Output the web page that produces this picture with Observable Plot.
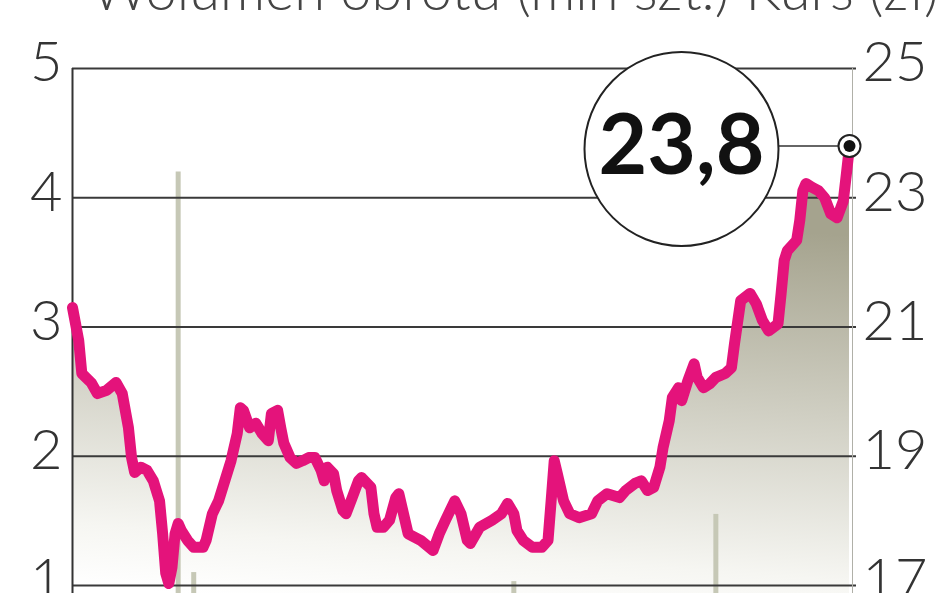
<!DOCTYPE html>
<html><head><meta charset="utf-8">
<script src="https://cdn.jsdelivr.net/npm/d3@7"></script>
<script src="https://cdn.jsdelivr.net/npm/@observablehq/plot@0.6"></script>
<style>
html,body{margin:0;padding:0;background:#fff;overflow:hidden;}
#chart svg{display:block;}
</style></head>
<body><div id="chart"></div>
<script>
// Kurs (zł) – sesje
const day = [0,2,3,6,8,11,14,16,18,19,20,22,24,26,28,29,30,31,32,33,34,35,37,39,42,43,45,47,49,51,53,54,55,57,59,61,63,64,66,67,68,70,72,74,76,78,80,81,82,84,85,87,88,90,92,93,96,97,98,100,102,104,105,108,112,116,118,120,123,125,127,128,131,135,138,140,142,143,145,148,151,153,154,155,156,158,160,163,167,169,172,176,178,181,183,185,187,189,190,192,193,195,196,198,200,201,203,205,207,210,212,213,215,218,220,222,224,227,228,229,230,233,234,235,236,238,240,242,244,246,248,249,250];
const price = [21.30,20.79,20.28,20.14,19.97,20.02,20.14,19.97,19.44,18.98,18.75,18.83,18.78,18.62,18.31,17.80,17.19,17.03,17.28,17.80,17.96,17.85,17.70,17.59,17.59,17.70,18.11,18.31,18.62,18.93,19.35,19.75,19.71,19.44,19.51,19.35,19.24,19.66,19.71,19.44,19.20,18.98,18.89,18.93,18.98,18.98,18.78,18.62,18.83,18.73,18.47,18.16,18.11,18.36,18.62,18.67,18.52,18.11,17.90,17.90,18.01,18.36,18.42,17.80,17.70,17.54,17.80,18.01,18.31,18.11,17.70,17.65,17.90,18.01,18.11,18.27,18.11,17.85,17.70,17.59,17.59,17.70,18.31,18.93,18.73,18.31,18.11,18.05,18.11,18.31,18.42,18.36,18.47,18.58,18.62,18.47,18.52,18.83,19.13,19.55,19.91,20.06,19.86,20.17,20.43,20.22,20.06,20.12,20.22,20.28,20.37,20.74,21.41,21.52,21.36,21.10,20.94,21.05,21.52,22.03,22.18,22.34,22.65,23.11,23.22,23.16,23.11,23.00,22.75,22.69,22.95,23.37,23.80];
// Wolumen obrotu (mln szt.) – słupki widoczne ponad osią
const volDay = [34,39,142,207];
const volume = [4.2,1.1,1.03,1.55];
// osie
const leftTicks = [1,2,3,4,5];
const rightTicks = [17,19,21,23,25];
const titleLeft = "Wolumen obrotu (mln szt.)";
const titleRight = "Kurs (zł)";

const toLeft = p => (p - 15) / 2;
const series = day.map((d,i) => ({day:d, price:price[i], v:toLeft(price[i])}));
const vols = volDay.map((d,i) => ({day:d, vol:volume[i]}));
const right = rightTicks.map(t => ({t, v:toLeft(t)}));
const last = series[series.length-1];

const FONT = "Lato,'DejaVu Sans Condensed',sans-serif";

const chart = Plot.plot({
  width: 948, height: 640,
  marginLeft: 72, marginRight: 99, marginTop: 68, marginBottom: 55,
  x: {domain: [0, 250], axis: null},
  y: {domain: [1, 5], axis: null},
  style: {background: "#fff", overflow: "visible", fontFamily: FONT},
  marks: [
    Plot.areaY(series, {x: "day", y1: 0.6, y2: "v", fill: "url(#volgrad)"}),
    Plot.ruleX(vols, {x: "day", y1: 0.6, y2: "vol", stroke: "#c6c8b6", strokeWidth: 5}),
    Plot.ruleY(leftTicks, {stroke: "#3a3a3a", strokeWidth: 2, insetRight: -7}),
    Plot.ruleX([0], {y1: 0.6, y2: 5, stroke: "#333", strokeWidth: 2}),
    Plot.ruleX([250], {y1: 0.6, y2: 5, stroke: "#b0b0a8", strokeWidth: 1, dx: 3}),
    Plot.text(leftTicks, {ariaLabel: "lab", y: d => d, frameAnchor: "left", text: d => String(d), textAnchor: "end", lineAnchor: "middle", dx: -10, dy: -5, fontSize: 56, fontWeight: 300, fill: "#333"}),
    Plot.text(right, {ariaLabel: "lab", y: "v", frameAnchor: "right", text: d => String(d.t), textAnchor: "start", lineAnchor: "middle", dx: 13, dy: -5, fontSize: 56, fontWeight: 300, fill: "#333"}),
    Plot.text([titleLeft], {ariaLabel: "titleL", frameAnchor: "top-left", text: d => d, textAnchor: "start", lineAnchor: "middle", dx: 19, dy: -76, fontSize: 56, fontWeight: 300, fill: "#444"}),
    Plot.text([titleRight], {ariaLabel: "titleR", frameAnchor: "top-right", text: d => d, textAnchor: "end", lineAnchor: "middle", dx: 89, dy: -76, fontSize: 56, fontWeight: 300, fill: "#444"}),
    Plot.line(series, {x: "day", y: "v", stroke: "#e4137b", strokeWidth: 11, strokeLinejoin: "round", strokeLinecap: "round"}),
    Plot.ruleY([last], {y: "v", x1: "day", x2: "day", insetLeft: -72, stroke: "#333", strokeWidth: 1.5}),
    Plot.dot([last], {x: "day", y: "v", r: 97, dx: -168, dy: 3, fill: "#fff", stroke: "#222", strokeWidth: 2}),
    Plot.text([last], {ariaLabel: "big", x: "day", y: "v", dx: -168, dy: 1, lineAnchor: "middle", text: d => d.price.toFixed(1).replace(".", ","), fontSize: 84, fontWeight: "bold", fill: "#111"}),
    Plot.dot([last], {x: "day", y: "v", r: 11, fill: "#fff", stroke: "#222", strokeWidth: 2}),
    Plot.dot([last], {x: "day", y: "v", r: 6, fill: "#111"})
  ]
});

const defs = d3.select(chart).insert("defs", ":first-child");
const g = defs.append("linearGradient").attr("id", "volgrad")
  .attr("gradientUnits", "userSpaceOnUse")
  .attr("x1", 72).attr("y1", 585).attr("x2", 102).attr("y2", 180);
g.append("stop").attr("offset", 0).attr("stop-color", "#ffffff");
g.append("stop").attr("offset", 0.15).attr("stop-color", "#f6f6f2");
g.append("stop").attr("offset", 1).attr("stop-color", "#a5a38e");

document.getElementById("chart").appendChild(chart);

// horizontal condensing (narrow newspaper typeface)
function scaleText(node, f) {
  const t = d3.select(node);
  let tr = t.attr("transform") || "";
  if (t.attr("x") != null || t.attr("y") != null) {
    tr = `${tr} translate(${+(t.attr("x")||0)},${+(t.attr("y")||0)})`;
    t.attr("x", null).attr("y", null);
  }
  t.attr("transform", `${tr} scale(${f},1)`);
}
function fitWidth(label, w) {
  d3.select(chart).selectAll(`g[aria-label="${label}"] text`).each(function(){
    const bw = this.getBBox().width;
    scaleText(this, bw > 0 ? w / bw : 0.85);
  });
}
d3.select(chart).selectAll('g[aria-label="lab"] text').each(function(){ scaleText(this, 0.76); });
fitWidth("titleL", 543);
fitWidth("titleR", 164);
fitWidth("big", 134);
</script></body></html>
